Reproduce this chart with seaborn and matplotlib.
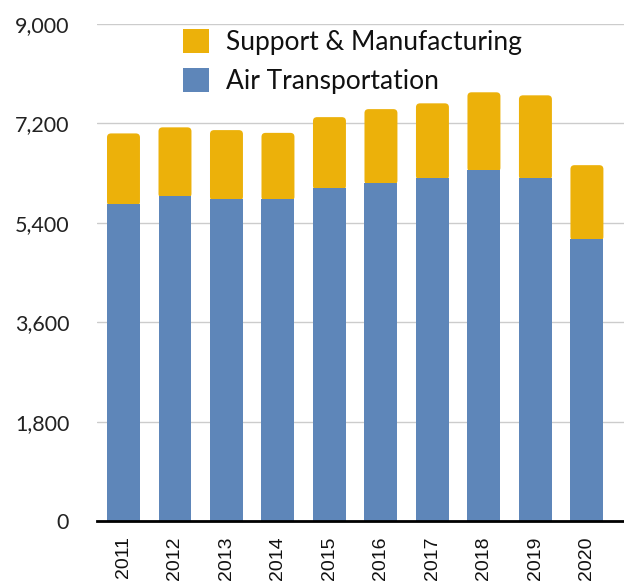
import matplotlib
matplotlib.use("Agg")
import matplotlib.pyplot as plt
import seaborn as sns
import pandas as pd
from matplotlib.ticker import FuncFormatter
from matplotlib.patches import FancyBboxPatch, Patch

years = ["2011", "2012", "2013", "2014", "2015", "2016", "2017", "2018", "2019", "2020"]
air_transport = [5740, 5885, 5830, 5830, 6030, 6125, 6210, 6355, 6210, 5105]
support_mfg = [1280, 1245, 1250, 1200, 1285, 1335, 1355, 1410, 1500, 1340]
yticks = [0, 1800, 3600, 5400, 7200, 9000]
series_labels = ["Support & Manufacturing", "Air Transportation"]

df = pd.DataFrame({"year": years, "air": air_transport, "support": support_mfg})
df["total"] = df["air"] + df["support"]

sns.set_theme(style="white")
plt.rcParams["font.family"] = ["Lato", "DejaVu Sans"]

BLUE = "#5E86B9"
GOLD = "#ECB10A"

fig = plt.figure(figsize=(6.24, 5.88), dpi=100)
ax = fig.add_axes([0.1554, 0.114, 0.8446, 0.845])

sns.barplot(data=df, x="year", y="total", color=GOLD, width=0.64, ax=ax,
            saturation=1, linewidth=0)
n_gold = len(ax.patches)
sns.barplot(data=df, x="year", y="air", color=BLUE, width=0.64, ax=ax,
            saturation=1, linewidth=0)

ax.set_ylim(0, 9000)
ax.set_xlim(-0.515, 9.72)

gold_patches = list(ax.patches[:n_gold])
blue_patches = list(ax.patches[n_gold:2 * n_gold])
# round the top corners of the gold segment (drawn from the blue top upward)
for gp, bp in zip(gold_patches, blue_patches):
    x, w = gp.get_x(), gp.get_width()
    top = gp.get_y() + gp.get_height()
    base = bp.get_y() + bp.get_height() - 30
    fb = FancyBboxPatch((x, base), w, top - base, boxstyle="round,pad=0,rounding_size=0.08",
                        mutation_aspect=900, facecolor=GOLD,
                        edgecolor="none", linewidth=0, zorder=0.9)
    gp.set_visible(False)
    ax.add_patch(fb)
    bp.set_zorder(1.0)

ax.set_yticks(yticks)
ax.yaxis.set_major_formatter(FuncFormatter(lambda v, p: f"{int(v):,}"))
ax.grid(axis="y", color="#CCCCCC", linewidth=1)
ax.set_axisbelow(True)
for s in ["top", "right", "left"]:
    ax.spines[s].set_visible(False)
ax.spines["bottom"].set_color("black")
ax.spines["bottom"].set_linewidth(2)
ax.spines["bottom"].set_zorder(5)
ax.set_xlabel("")
ax.set_ylabel("")
ax.tick_params(axis="y", length=0, labelsize=15.5, pad=20, labelcolor="#222222")
ax.tick_params(axis="x", length=0, pad=11)
for lab in ax.get_xticklabels():
    lab.set_rotation(90)
    lab.set_fontfamily(["Liberation Sans", "DejaVu Sans"])
    lab.set_fontsize(14)
    lab.set_color("#111111")

handles = [Patch(facecolor=GOLD, edgecolor="none"), Patch(facecolor=BLUE, edgecolor="none")]
leg = ax.legend(handles, series_labels, loc="upper left", bbox_to_anchor=(0.1626, 0.99),
                frameon=False, fontsize=19, handlelength=1.0, handleheight=1.0,
                handletextpad=0.63, labelspacing=0.5, borderpad=0, borderaxespad=0)
for t in leg.get_texts():
    t.set_color("#111111")

fig.savefig("out.png", dpi=100)
